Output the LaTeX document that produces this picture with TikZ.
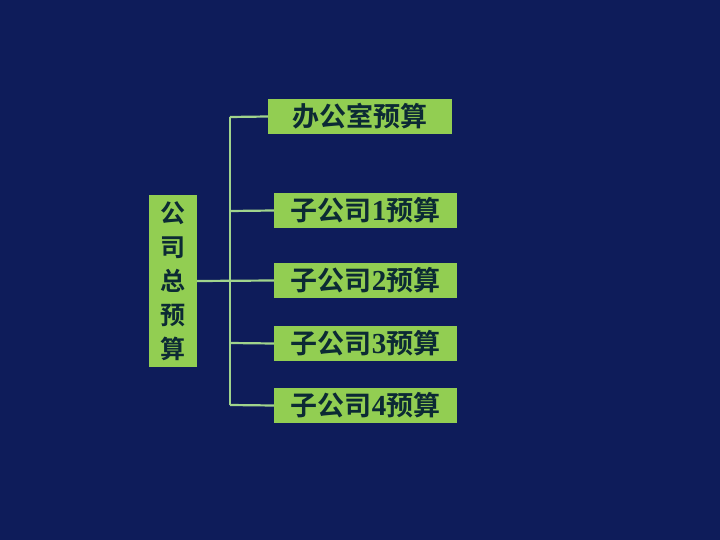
\documentclass[tikz,border=0pt]{standalone}
\usepackage{fontspec}
\newfontfamily\cjk{Noto Sans CJK SC}[BoldFont={Noto Sans CJK SC Bold}]
\newfontfamily\numf{Liberation Serif}
\definecolor{bg}{RGB}{14,28,90}
\definecolor{boxg}{RGB}{146,206,82}
\definecolor{txt}{RGB}{12,42,52}
\definecolor{lineg}{RGB}{160,212,140}
\tikzset{
  gbox/.style={fill=boxg, draw=none, inner sep=0pt, text=txt, font=\fontsize{27}{27}\selectfont\cjk\bfseries},
  numtxt/.style={},
  conn/.style={draw=lineg, line width=2.2pt}
}
\newcommand{\dg}[1]{{\fontsize{29}{29}\selectfont\numf\bfseries #1}}
\begin{document}
\begin{tikzpicture}[x=1pt,y=-1pt]
\fill[bg] (0,0) rectangle (720,540);
\useasboundingbox (0,0) rectangle (720,540);
\node[gbox, minimum width=184pt, minimum height=35pt] (top) at (360,116.5) {办公室预算};
\node[gbox, minimum width=183pt, minimum height=35pt] (s1) at (365.5,210.5) {子公司\dg{1}预算};
\node[gbox, minimum width=183pt, minimum height=35pt] (s2) at (365.5,280.5) {子公司\dg{2}预算};
\node[gbox, minimum width=183pt, minimum height=35pt] (s3) at (365.5,343.5) {子公司\dg{3}预算};
\node[gbox, minimum width=183pt, minimum height=35pt] (s4) at (365.5,405.5) {子公司\dg{4}预算};
\node[gbox, minimum width=48pt, minimum height=172pt, align=center, font=\fontsize{25}{34}\selectfont\cjk\bfseries] (root) at (173,281) {公\\司\\总\\预\\算};
\coordinate (vt) at (230,117);
\coordinate (vb) at (230,405);
\draw[conn] (vt) -- (vb);
\draw[conn] (vt) -- (top.west);
\draw[conn] (230,211) -- (s1.west);
\draw[conn] (root.east) -- (s2.west);
\draw[conn] (230,343) -- (s3.west);
\draw[conn] (vb) -- (s4.west);
\end{tikzpicture}
\end{document}
